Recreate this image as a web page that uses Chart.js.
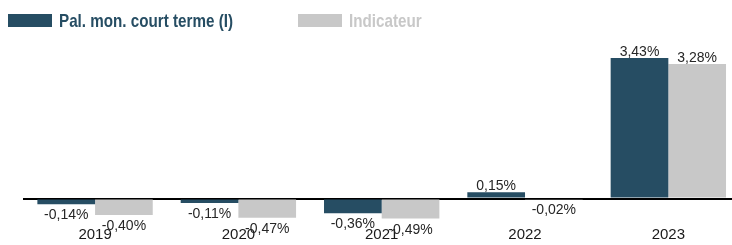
<!DOCTYPE html>
<html>
<head>
<meta charset="utf-8">
<script src="https://cdn.jsdelivr.net/npm/chart.js@4"></script>
<style>
  html, body { margin: 0; padding: 0; background: #fff; overflow: hidden; }
  #wrap { position: relative; width: 740px; height: 245px; overflow: hidden; }
  #legend { position: absolute; left: 0; top: 0; width: 732px; height: 40px; font-family: "Liberation Sans", Arial, sans-serif; font-weight: bold; font-size: 19px; }
  .item { position: absolute; top: 10px; height: 22px; line-height: 22px; white-space: nowrap; }
  .box { position: absolute; top: 4px; width: 44px; height: 13px; }
  .txt { position: absolute; left: 51px; top: 0; transform: scaleX(0.8); transform-origin: 0 50%; }
</style>
</head>
<body>
<div id="wrap">
  <canvas id="chart" width="740" height="251"></canvas>
  <div id="legend"></div>
</div>
<script>
const years = ["2019", "2020", "2021", "2022", "2023"];
const palValues = [-0.14, -0.11, -0.36, 0.15, 3.43];
const indicValues = [-0.40, -0.47, -0.49, -0.02, 3.28];
const seriesNames = ["Pal. mon. court terme (I)", "Indicateur"];
const seriesColors = ["#264D63", "#C8C8C8"];

const fmt = (v) => v.toFixed(2).replace(".", ",") + "%";

// legend in html, positioned like the original
const legendX = [8, 298];
const legend = document.getElementById("legend");
seriesNames.forEach((name, i) => {
  const item = document.createElement("div");
  item.className = "item";
  item.style.left = legendX[i] + "px";
  item.innerHTML = `<span class="box" style="background:${seriesColors[i]}"></span><span class="txt" style="color:${seriesColors[i]}">${name}</span>`;
  legend.appendChild(item);
});

const valueLabels = {
  id: "valueLabels",
  afterDatasetsDraw(chart) {
    const ctx = chart.ctx;
    ctx.save();
    ctx.font = "14px 'Liberation Sans', Arial, sans-serif";
    ctx.fillStyle = "#262626";
    ctx.textAlign = "center";
    ctx.textBaseline = "alphabetic";
    chart.data.datasets.forEach((ds, di) => {
      chart.getDatasetMeta(di).data.forEach((bar, i) => {
        const v = ds.data[i];
        const y = v >= 0 ? bar.y - 2 : bar.y + 15;
        ctx.fillText(fmt(v), bar.x, y);
      });
    });
    ctx.restore();
  },
};

new Chart(document.getElementById("chart"), {
  type: "bar",
  data: {
    labels: years,
    datasets: [
      { label: seriesNames[0], data: palValues, backgroundColor: seriesColors[0] },
      { label: seriesNames[1], data: indicValues, backgroundColor: seriesColors[1] },
    ],
  },
  options: {
    responsive: false,
    animation: false,
    layout: { padding: { left: 23.4, right: 0, top: 51, bottom: 0 } },
    datasets: { bar: { categoryPercentage: 0.805, barPercentage: 1.0 } },
    plugins: { legend: { display: false }, tooltip: { enabled: false } },
    scales: {
      x: {
        grid: { display: false, drawTicks: false },
        border: { display: false },
        ticks: {
          padding: 7,
          color: "#1a1a1a",
          font: { family: "'Liberation Sans', Arial, sans-serif", size: 15 },
        },
      },
      y: {
        min: -0.5,
        max: 3.6,
        ticks: { display: false, stepSize: 0.5 },
        border: { display: false },
        grid: {
          drawTicks: false,
          lineWidth: 2,
          color: (c) => (c.tick && c.tick.value === 0 ? "#000" : "rgba(0,0,0,0)"),
        },
      },
    },
  },
  plugins: [valueLabels],
});
</script>
</body>
</html>
